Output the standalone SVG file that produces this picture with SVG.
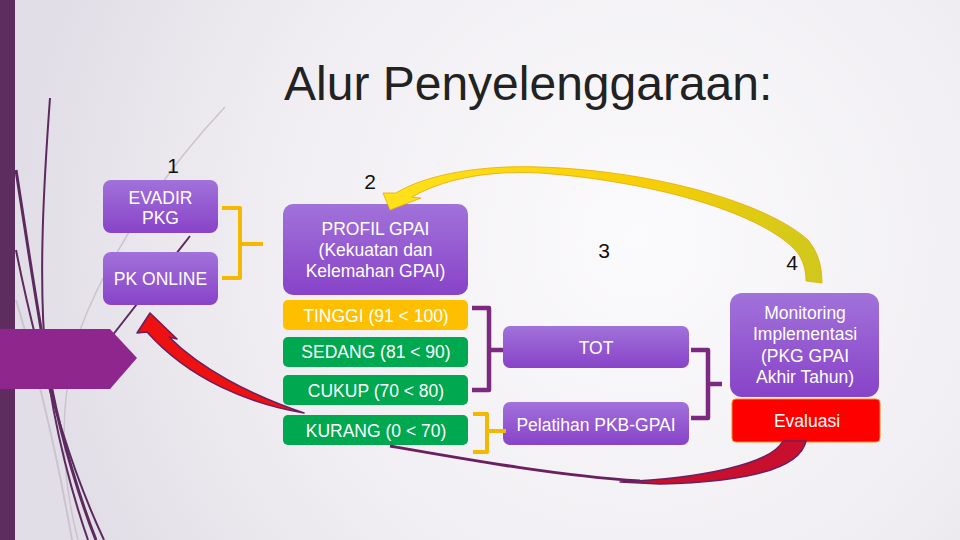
<svg xmlns="http://www.w3.org/2000/svg" width="960" height="540" viewBox="0 0 960 540">
<defs>
<radialGradient id="bg" cx="640" cy="240" r="620" gradientUnits="userSpaceOnUse">
<stop offset="0" stop-color="#fbfafc"/>
<stop offset="0.6" stop-color="#f0eef2"/>
<stop offset="1" stop-color="#e2dee7"/>
</radialGradient>
<linearGradient id="pbox" x1="0" y1="0" x2="0" y2="1">
<stop offset="0" stop-color="#a172da"/>
<stop offset="1" stop-color="#8843c8"/>
</linearGradient>
<linearGradient id="yarrow" x1="0" y1="0" x2="1" y2="0">
<stop offset="0" stop-color="#ffe21a"/>
<stop offset="0.6" stop-color="#f7cf06"/>
<stop offset="1" stop-color="#cfc81c"/>
</linearGradient>
<style>
.box{fill:url(#pbox);}
.t{font-family:"Liberation Sans",Arial,sans-serif;font-size:17.5px;fill:#ffffff;text-anchor:middle;}
.num{font-family:"Liberation Sans",Arial,sans-serif;font-size:21px;fill:#111111;text-anchor:middle;}
.ybr{fill:none;stroke:#f5b800;stroke-width:4;stroke-linejoin:round;}
.pbr{fill:none;stroke:#7b2a80;stroke-width:4.5;stroke-linejoin:round;}
.green{fill:#00a850;}
.dl{fill:none;stroke:#5c2a5e;}
.gl{fill:none;stroke:#cbc4cf;}
</style>
</defs>
<rect width="960" height="540" fill="url(#bg)"/>
<rect x="0" y="0" width="15" height="540" fill="#5e2d60"/>
<g id="decoration">
<path class="gl" stroke-width="1.5" d="M225,107 C170,165 110,250 80,330 C58,400 60,470 78,540"/>
<path class="gl" stroke-width="2" d="M16,300 C40,380 58,460 72,540"/>
<path class="dl" stroke-width="2" d="M50,98 C44,180 38,280 46,360 C54,430 74,500 88,540"/>
<path class="dl" stroke-width="3" d="M16,170 C30,260 40,330 52,390 C62,440 80,500 96,540"/>
<path class="dl" stroke-width="2" d="M16,250 C30,320 46,380 62,430 C76,475 90,510 104,540"/>
<path class="dl" stroke-width="2" d="M190,236 L112,336"/>
<path d="M0,329 L110,329 L137,358 L110,389 L0,389 Z" fill="#8e268e"/>
</g>
<text x="284" y="100" font-family="'Liberation Sans',Arial,sans-serif" font-size="48" fill="#222222">Alur Penyelenggaraan:</text>
<g id="numbers">
<text class="num" x="173" y="173">1</text>
<text class="num" x="370" y="189">2</text>
<text class="num" x="604" y="258">3</text>
<text class="num" x="792" y="270">4</text>
</g>
<g id="node-evadir">
<rect class="box" x="103" y="180" width="115" height="53" rx="8"/>
<text class="t" x="160.5" y="204">EVADIR</text>
<text class="t" x="160.5" y="224">PKG</text>
</g>
<g id="node-pkonline">
<rect class="box" x="103" y="252" width="115" height="53" rx="8"/>
<text class="t" x="160.5" y="285">PK ONLINE</text>
</g>
<g id="node-profil">
<rect class="box" x="283" y="204" width="185" height="91" rx="10"/>
<text class="t" x="375.5" y="235">PROFIL GPAI</text>
<text class="t" x="375.5" y="256">(Kekuatan dan</text>
<text class="t" x="375.5" y="277">Kelemahan GPAI)</text>
</g>
<g id="node-tinggi">
<rect x="283" y="300" width="185" height="30" rx="5" fill="#fdbf00"/>
<text class="t" x="376" y="322" fill="#fff8dc">TINGGI (91 &lt; 100)</text>
</g>
<g id="node-sedang">
<rect class="green" x="283" y="337" width="185" height="30" rx="5"/>
<text class="t" x="376" y="358">SEDANG (81 &lt; 90)</text>
</g>
<g id="node-cukup">
<rect class="green" x="283" y="375" width="185" height="30" rx="5"/>
<text class="t" x="376" y="397">CUKUP (70 &lt; 80)</text>
</g>
<g id="node-kurang">
<rect class="green" x="283" y="415" width="185" height="30" rx="5"/>
<text class="t" x="376" y="437">KURANG (0 &lt; 70)</text>
</g>
<g id="node-tot">
<rect class="box" x="503" y="326" width="186" height="42" rx="7"/>
<text class="t" x="596" y="354">TOT</text>
</g>
<g id="node-pelatihan">
<rect class="box" x="503" y="402" width="186" height="43" rx="7"/>
<text class="t" x="596" y="431">Pelatihan PKB-GPAI</text>
</g>
<g id="node-monitoring">
<rect class="box" x="730" y="293" width="149" height="104" rx="12"/>
<text class="t" x="805" y="319">Monitoring</text>
<text class="t" x="805" y="340">Implementasi</text>
<text class="t" x="805" y="362">(PKG GPAI</text>
<text class="t" x="805" y="383">Akhir Tahun)</text>
</g>
<g id="node-evaluasi">
<rect x="732" y="399" width="148" height="43" rx="4" fill="#ff0000" stroke="#f58a1f" stroke-width="1"/>
<text class="t" x="807" y="427">Evaluasi</text>
</g>
<g id="connectors">
<path class="ybr" d="M222,208 L240,208 L240,278 L222,278 M240,244 L263,244"/>
<path class="pbr" d="M472,308 L489,308 L489,390 L472,390 M489,350 L503,350"/>
<path class="ybr" d="M473,414 L487,414 L487,452 L473,452 M487,431 L506,431"/>
<path class="pbr" d="M691,350 L708,350 L708,418 L691,418 M708,384 L722,384"/>
<path d="M390,210 L383,193 L396,193 C430,172 490,165 540,167 C660,171 770,205 808,240 C818,252 822,266 822,283 L806,281 C806,270 803,260 797,252 C765,215 660,182 540,173 C482,170 440,181 412,197 L421,198 Z" fill="url(#yarrow)" stroke="#e8a900" stroke-width="0.8" stroke-linejoin="round"/>
<path d="M640,481 C560,476 470,460 390,446" fill="none" stroke="#6a1f60" stroke-width="3"/>
<path d="M783,441 L806,441 C800,468 750,482 660,484 L620,482 C700,478 770,465 783,441 Z" fill="#c8102e" stroke="#6a1f60" stroke-width="1.5" stroke-linejoin="round"/>
<path d="M150,313 L177,339 L169,337 C200,368 250,395 304,413 C250,404 190,380 147,332 L137,333 Z" fill="#ee1111" stroke="#6a1f60" stroke-width="1.5" stroke-linejoin="round"/>
</g>
</svg>
